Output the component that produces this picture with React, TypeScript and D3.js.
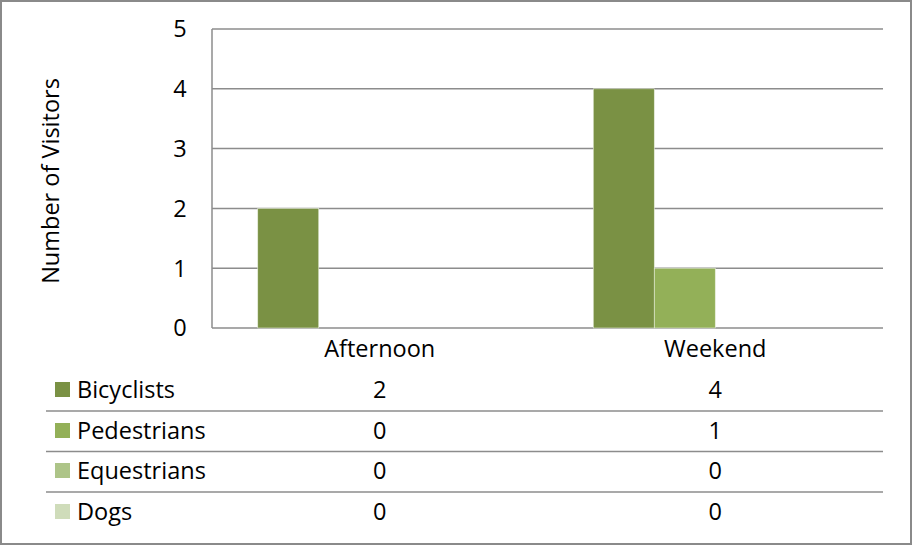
import React from "react";
import * as d3 from "d3";

const categories = ["Afternoon", "Weekend"];
const seriesNames = ["Bicyclists", "Pedestrians", "Equestrians", "Dogs"];
const bicyclists = [2, 4];
const pedestrians = [0, 1];
const equestrians = [0, 0];
const dogs = [0, 0];
const yTicks = [0, 1, 2, 3, 4, 5];
const colors = ["#7a9144", "#93b058", "#adc488", "#cfdcba"];

const seriesValues = [bicyclists, pedestrians, equestrians, dogs];

export default function App() {
  const W = 913, H = 545;
  const left = 212, right = 883, top = 29, bottom = 328;
  const font = "'Open Sans', 'Noto Sans', sans-serif";
  const y = d3.scaleLinear().domain([0, 5]).range([bottom, top]);
  const x0 = d3.scaleBand().domain(categories).range([left, right]).paddingInner(0.2728).paddingOuter(0.1364);
  const x1 = d3.scaleBand().domain(seriesNames).range([0, x0.bandwidth()]);
  const catBand = d3.scaleBand().domain(categories).range([left, right]);
  const rowY = [390, 431, 471, 512];
  const rowLines = [411, 451.5, 492];
  const fs = 23.5;
  return (
    <svg width={W} height={H} style={{ position: "absolute", left: 0, top: 0, background: "#fff" }}>
      <rect x={1} y={1} width={W - 3} height={H - 2} fill="#fff" stroke="#8a8a8a" strokeWidth={2} />
      {yTicks.map((t) => (
        <line key={"g" + t} x1={left} x2={right} y1={y(t)} y2={y(t)} stroke="#8c8c8c" strokeWidth={1.5} />
      ))}
      <line x1={left} x2={left} y1={top} y2={bottom} stroke="#8c8c8c" strokeWidth={1.5} />
      {yTicks.map((t) => (
        <text key={"t" + t} x={180} y={y(t)} dy="0.36em" textAnchor="middle" fontFamily={font} fontSize={fs} fill="#000">
          {t}
        </text>
      ))}
      {categories.map((c, ci) =>
        seriesValues.map((vals, si) =>
          vals[ci] > 0 ? (
            <rect
              key={c + si}
              x={(x0(c) as number) + (x1(seriesNames[si]) as number)}
              y={y(vals[ci])}
              width={x1.bandwidth()}
              height={y(0) - y(vals[ci])}
              fill={colors[si]}
              stroke="#e8eedd"
              strokeWidth={0.6}
            />
          ) : null
        )
      )}
      {categories.map((c) => (
        <text key={"c" + c} x={(catBand(c) as number) + catBand.bandwidth() / 2} y={357} textAnchor="middle" fontFamily={font} fontSize={fs} fill="#000">
          {c}
        </text>
      ))}
      {rowLines.map((ly, i) => (
        <line key={"rl" + i} x1={46} x2={right} y1={ly} y2={ly} stroke="#8c8c8c" strokeWidth={1.5} />
      ))}
      {seriesNames.map((s, si) => (
        <g key={"row" + s}>
          <rect x={55} y={rowY[si] - 8} width={15} height={15} fill={colors[si]} />
          <text x={77} y={rowY[si]} dy="0.36em" fontFamily={font} fontSize={fs} fill="#000">
            {s}
          </text>
          {categories.map((c, ci) => (
            <text key={c} x={(catBand(c) as number) + catBand.bandwidth() / 2} y={rowY[si]} dy="0.36em" textAnchor="middle" fontFamily={font} fontSize={fs} fill="#000">
              {seriesValues[si][ci]}
            </text>
          ))}
        </g>
      ))}
      <text transform={`translate(59,181) rotate(-90)`} textAnchor="middle" fontFamily={font} fontSize={fs} fill="#000">
        Number of Visitors
      </text>
    </svg>
  );
}
